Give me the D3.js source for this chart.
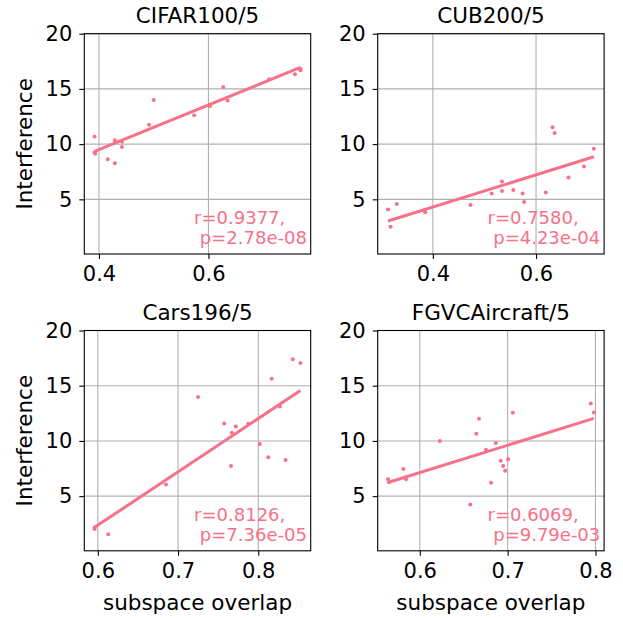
<!DOCTYPE html>
<html>
<head>
<meta charset="utf-8">
<script src="https://cdn.jsdelivr.net/npm/d3@7"></script>
<style>
body { margin: 0; background: #fff; }
svg text { font-family: "DejaVu Sans", sans-serif; }
</style>
</head>
<body>
<div id="chart"></div>
<script>
const titles = ["CIFAR100/5", "CUB200/5", "Cars196/5", "FGVCAircraft/5"];
const statLabels = [
	["r=0.9377,", " p=2.78e-08"],
	["r=0.7580,", " p=4.23e-04"],
	["r=0.8126,", " p=7.36e-05"],
	["r=0.6069,", " p=9.79e-03"]
];

const cifarX = [0.392, 0.392, 0.393, 0.416, 0.429, 0.429, 0.442, 0.442, 0.4915, 0.500, 0.574, 0.603, 0.627, 0.635, 0.711, 0.758, 0.768, 0.768];
const cifarY = [10.70, 9.24, 9.12, 8.64, 8.27, 10.36, 9.73, 10.24, 11.76, 14.0, 12.61, 13.45, 15.18, 13.94, 15.88, 16.33, 16.82, 16.70];

const cubX = [0.313, 0.318, 0.330, 0.385, 0.473, 0.514, 0.534, 0.534, 0.556, 0.574, 0.577, 0.619, 0.632, 0.636, 0.663, 0.693, 0.712];
const cubY = [4.09, 2.52, 4.58, 3.82, 4.48, 5.52, 6.61, 5.76, 5.85, 5.52, 4.76, 5.61, 11.52, 11.0, 6.97, 7.97, 9.58];

const carsX = [0.596, 0.596, 0.613, 0.685, 0.725, 0.7575, 0.766, 0.767, 0.772, 0.7875, 0.802, 0.8125, 0.8167, 0.827, 0.834, 0.843, 0.8525];
const carsY = [2.03, 2.15, 1.55, 6.06, 13.97, 11.58, 7.73, 10.73, 11.30, 11.55, 9.73, 8.52, 15.64, 13.12, 8.27, 17.39, 17.06];

const aircraftX = [0.5638, 0.565, 0.5813, 0.5844, 0.6229, 0.6575, 0.6644, 0.6674, 0.6754, 0.6811, 0.6865, 0.6922, 0.6949, 0.6971, 0.7006, 0.7059, 0.7947, 0.7981];
const aircraftY = [6.52, 6.25, 7.45, 6.52, 10.0, 4.24, 10.64, 12.0, 9.21, 6.21, 9.82, 8.21, 7.73, 7.30, 8.33, 12.55, 13.39, 12.58];

const xTicks = [[0.4, 0.6], [0.4, 0.6], [0.6, 0.7, 0.8], [0.6, 0.7, 0.8]];
const yTicks = [5, 10, 15, 20];
const yLimits = [0.05, 20];

const xLabel = "subspace overlap";
const yLabel = "Interference";

const color = "#f77189";
const width = 623, height = 618;

class ScatterPanel {
	constructor(svg, left, top, w, h) {
		this.g = svg.append("g").attr("transform", `translate(${left},${top})`);
		this.w = w;
		this.h = h;
	}

	fit(xs, ys) {
		const mx = d3.mean(xs), my = d3.mean(ys);
		let sxy = 0, sxx = 0;
		xs.forEach((x, i) => { sxy += (x - mx) * (ys[i] - my); sxx += (x - mx) * (x - mx); });
		const slope = sxy / sxx;
		return { slope, intercept: my - slope * mx };
	}

	draw(xs, ys, ticks, title, stats, showYLabel, showXLabel) {
		const { g, w, h } = this;
		const [lo, hi] = d3.extent(xs);
		const pad = (hi - lo) * 0.05;
		const x = d3.scaleLinear().domain([lo - pad, hi + pad]).range([0, w]);
		const y = d3.scaleLinear().domain(yLimits).range([h, 0]);

		// grid
		g.append("g").selectAll("line").data(ticks).join("line")
			.attr("x1", d => x(d)).attr("x2", d => x(d))
			.attr("y1", 0).attr("y2", h)
			.attr("stroke", "#b0b0b0").attr("stroke-width", 1.1);
		g.append("g").selectAll("line").data(yTicks).join("line")
			.attr("x1", 0).attr("x2", w)
			.attr("y1", d => y(d)).attr("y2", d => y(d))
			.attr("stroke", "#b0b0b0").attr("stroke-width", 1.1);

		// points
		g.append("g").selectAll("circle").data(xs).join("circle")
			.attr("cx", d => x(d))
			.attr("cy", (d, i) => y(ys[i]))
			.attr("r", 2)
			.attr("fill", color);

		// regression line
		const { slope, intercept } = this.fit(xs, ys);
		const line = d3.line().x(d => x(d)).y(d => y(slope * d + intercept));
		g.append("path")
			.attr("d", line([lo, hi]))
			.attr("stroke", color)
			.attr("stroke-width", 3)
			.attr("fill", "none");

		// axes
		const xAxis = g.append("g").attr("transform", `translate(0,${h})`)
			.call(d3.axisBottom(x).tickValues(ticks).tickFormat(d3.format(".1f")).tickSize(5).tickPadding(7));
		const yAxis = g.append("g")
			.call(d3.axisLeft(y).tickValues(yTicks).tickSize(5).tickPadding(7));
		[xAxis, yAxis].forEach(a => {
			a.select(".domain").remove();
			a.selectAll("line").attr("stroke", "#000").attr("stroke-width", 1.1);
			a.selectAll("text").attr("fill", "#000").style("font-size", "21px")
				.style("font-family", "DejaVu Sans");
		});

		g.append("rect")
			.attr("width", w).attr("height", h)
			.attr("fill", "none").attr("stroke", "#000").attr("stroke-width", 1.1);

		// stats text
		const st = g.append("text")
			.attr("fill", color)
			.style("font-size", "18px")
			.style("white-space", "pre");
		st.append("tspan").attr("x", w * 0.485).attr("y", h - 30).text(stats[0]);
		st.append("tspan").attr("x", w * 0.485).attr("y", h - 10).text(stats[1]);

		g.append("text")
			.attr("x", w / 2).attr("y", -10.5)
			.attr("text-anchor", "middle")
			.style("font-size", "21.5px")
			.text(title);

		if (showYLabel) {
			g.append("text")
				.attr("transform", `translate(${32 - 84.3},${h / 2}) rotate(-90)`)
				.attr("text-anchor", "middle")
				.style("font-size", "21.5px")
				.text(yLabel);
		}
		if (showXLabel) {
			g.append("text")
				.attr("x", w / 2).attr("y", h + 59)
				.attr("text-anchor", "middle")
				.style("font-size", "21.5px")
				.text(xLabel);
		}
	}
}

const svg = d3.select("#chart").append("svg")
	.attr("width", width)
	.attr("height", height);

const lefts = [84.3, 377.7];
const tops = [33.7, 330.5];
const panelW = 226.4, panelH = 220.3;
const series = [[cifarX, cifarY], [cubX, cubY], [carsX, carsY], [aircraftX, aircraftY]];

series.forEach(([xs, ys], i) => {
	const col = i % 2, row = Math.floor(i / 2);
	const panel = new ScatterPanel(svg, lefts[col], tops[row], panelW, panelH);
	panel.draw(xs, ys, xTicks[i], titles[i], statLabels[i], col === 0, row === 1);
});
</script>
</body>
</html>
